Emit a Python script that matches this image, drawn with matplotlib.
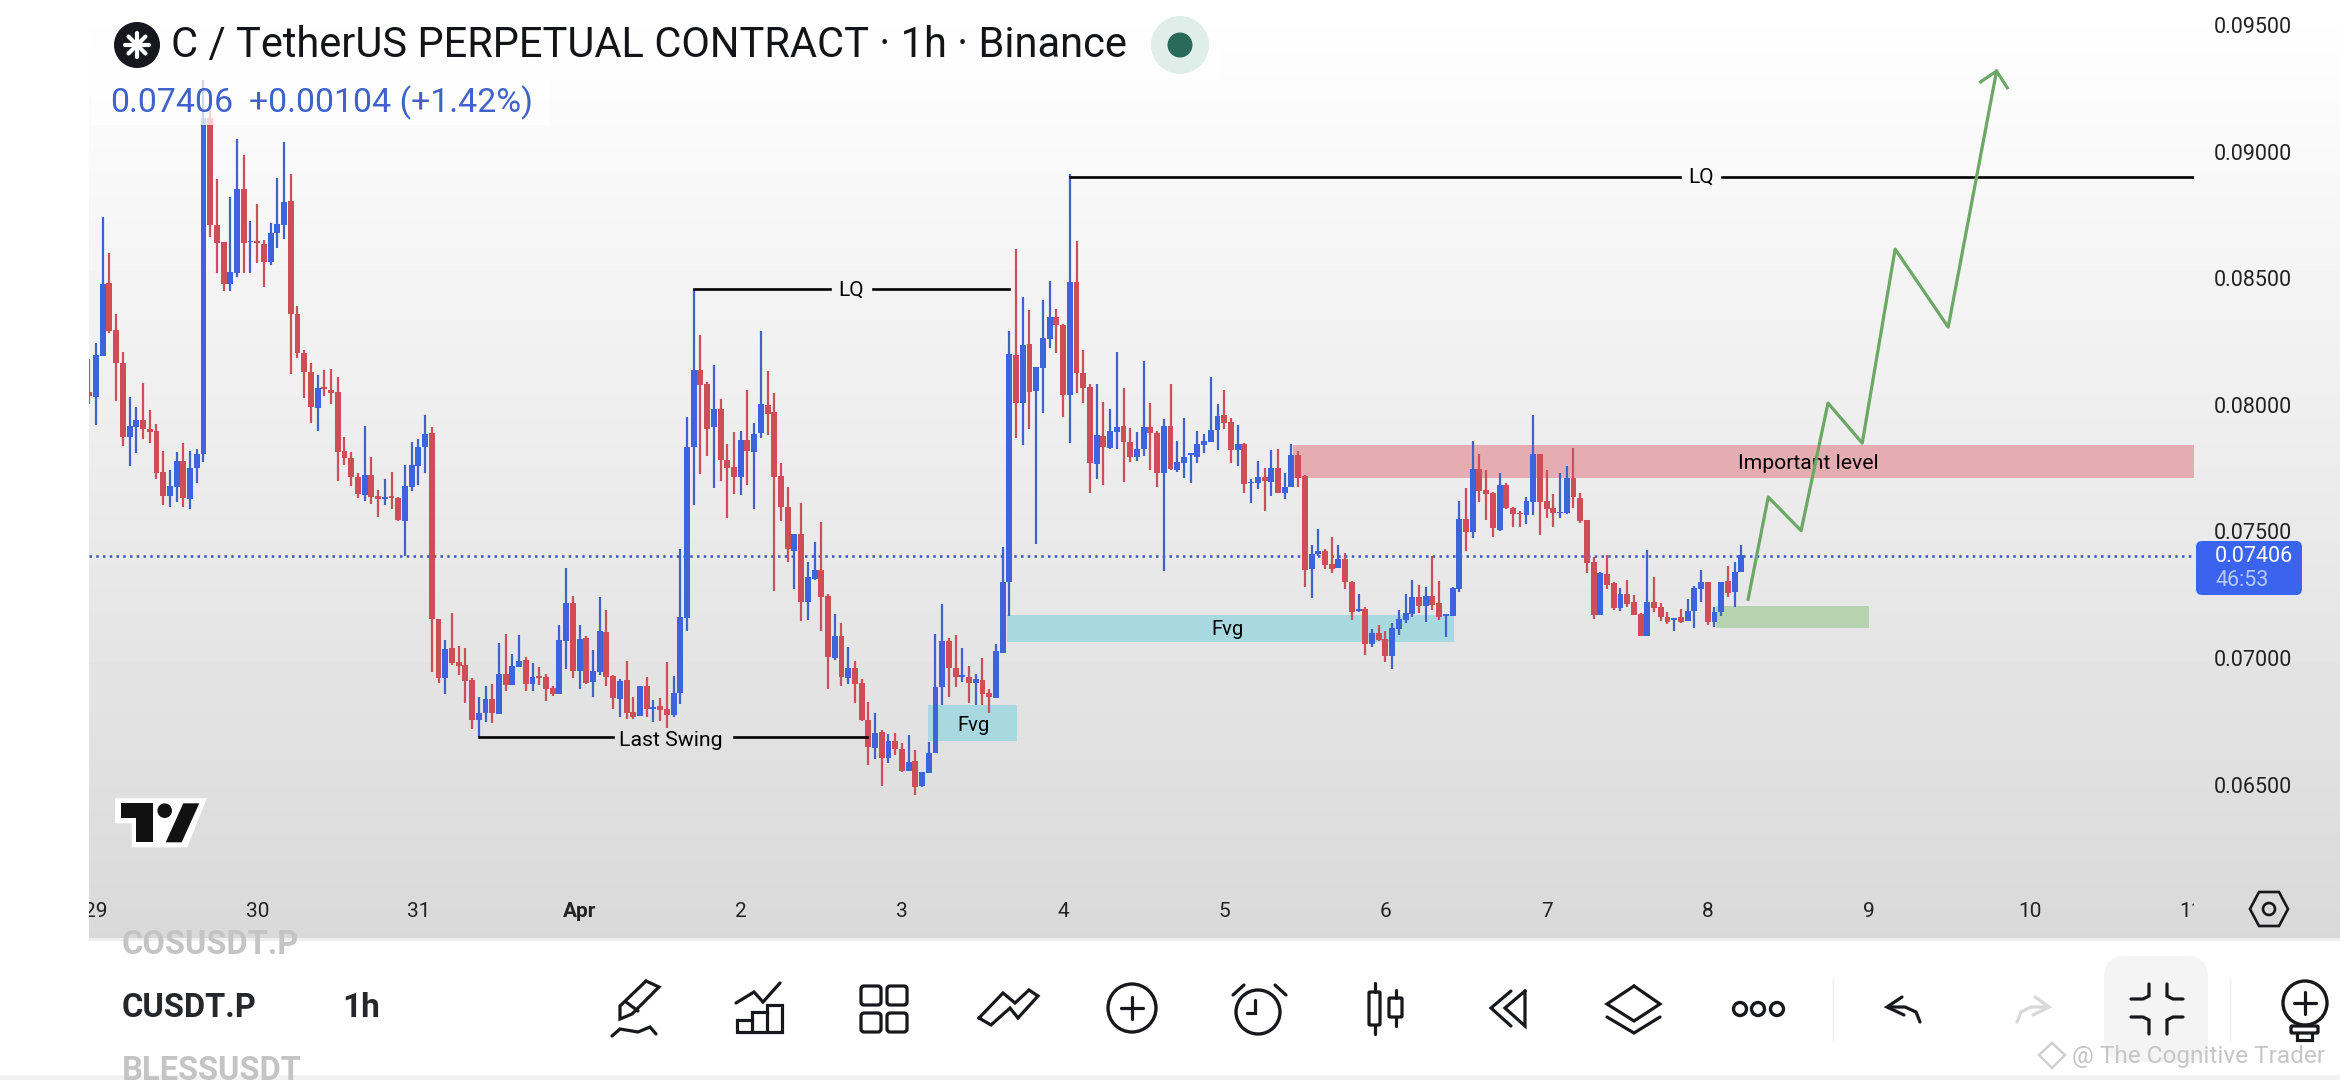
"""C / TetherUS 1h chart with the annotations, in the look of the phone app"""

import numpy as np
import matplotlib
matplotlib.use('Agg')
import matplotlib.pyplot as plt
from matplotlib.patches import Rectangle, Circle, Polygon, FancyBboxPatch

plt.rcParams['font.family'] = ['Roboto', 'DejaVu Sans']

# prices in 1/100000 of a dollar, one hourly candle each
opens = [8052,8032,8193,8480,8296,8164,7874,7914,7940,7903,
         7897,7734,7640,7677,7778,7628,7749,7805,9132,8710,
         8645,8476,8522,8853,8645,8646,8635,8566,8680,8710,
         8805,8358,8204,8128,7989,8072,8059,8049,7818,7789,
         7716,7644,7722,7640,7627,7640,7634,7542,7677,7760,
         7832,7890,7153,6922,7038,6983,6972,6913,6755,6784,
         6838,6779,6937,6893,6966,6992,6897,6929,6924,6882,
         6858,7069,7216,6950,7078,6907,6945,7103,6929,6839,
         6913,6786,6771,6890,6800,6811,6797,6776,6861,7158,
         7832,8137,8082,7911,7982,7782,7753,7716,7861,7815,
         7887,7999,7970,7719,7598,7424,7490,7223,7312,7348,
         7245,6999,7087,6922,6962,6900,6755,6643,6709,6606,
         6672,6639,6555,6593,6495,6547,6624,6887,7067,6959,
         6926,6926,6903,6913,6861,6843,7022,7299,8197,8009,
         8240,8056,8147,8261,8348,8315,8040,8484,8125,8072,
         7765,7877,7828,7894,7917,7855,7793,7824,7911,7888,
         7730,7917,7743,7772,7802,7795,7843,7855,7901,7959,
         7931,7822,7845,7690,7690,7716,7694,7749,7653,7677,
         7802,7719,7352,7411,7421,7370,7357,7391,7300,7187,
         7195,7055,7098,7074,7008,7115,7150,7174,7240,7205,
         7246,7216,7166,7166,7271,7548,7499,7747,7664,7650,
         7506,7683,7591,7574,7564,7618,7806,7619,7591,7574,
         7574,7711,7631,7545,7381,7170,7332,7298,7196,7254,
         7223,7174,7088,7220,7200,7163,7150,7161,7148,7187,
         7273,7300,7144,7183,7304,7262,7338]
closes = [8035,8197,8477,8293,8164,7874,7917,7940,7903,7894,
          7732,7641,7680,7778,7631,7749,7806,9132,8710,8641,
          8476,8523,8853,8641,8648,8638,8566,8677,8713,8802,
          8358,8204,8131,7993,8065,8064,8048,7815,7791,7716,
          7648,7723,7637,7627,7635,7634,7545,7679,7762,7835,
          7885,7153,6922,7034,6982,6970,6911,6755,6782,6838,
          6782,6937,6893,6968,6990,6897,6924,6922,6879,6858,
          7071,7216,6950,7074,6903,6949,7108,6926,6841,6909,
          6784,6766,6890,6800,6808,6795,6776,6861,7161,7832,
          8137,8078,7906,7982,7782,7750,7716,7861,7818,7885,
          8003,7964,7716,7595,7429,7490,7223,7319,7348,7242,
          7003,7087,6924,6959,6897,6755,6650,6705,6606,6672,
          6639,6554,6588,6492,6550,6624,6884,7067,6959,6926,
          6932,6903,6916,6858,6845,7028,7299,8201,8006,8236,
          8052,8148,8263,8348,8314,8040,8484,8125,8068,7769,
          7880,7832,7897,7911,7855,7793,7824,7911,7888,7730,
          7917,7747,7776,7793,7809,7845,7856,7901,7956,7930,
          7822,7845,7686,7695,7715,7698,7749,7653,7677,7802,
          7712,7348,7411,7421,7367,7350,7390,7299,7183,7192,
          7055,7098,7071,7008,7117,7154,7177,7240,7205,7246,
          7209,7161,7173,7277,7548,7499,7747,7661,7648,7512,
          7683,7591,7567,7567,7621,7806,7618,7589,7574,7578,
          7711,7635,7542,7377,7170,7337,7288,7196,7255,7213,
          7170,7088,7220,7199,7161,7144,7159,7144,7187,7277,
          7300,7144,7183,7300,7258,7338,7406]
highs = [8180,8243,8741,8598,8359,8207,8032,7990,8085,7980,
         7924,7818,7743,7814,7851,7818,7826,9283,9243,8891,
         8645,8820,9049,8987,8727,8793,8651,8717,8895,9037,
         8912,8390,8217,8164,8118,8138,8140,8109,7872,7813,
         7732,7917,7793,7664,7706,7734,7637,7762,7852,7864,
         7960,7914,7153,7071,7179,7047,7038,6920,6847,6890,
         6897,7061,7095,7016,7091,7003,6982,6966,6937,6890,
         7130,7354,7245,7130,7087,7032,7242,7190,6933,6916,
         6990,6847,6890,6926,6834,6841,6986,6929,7431,7951,
         8456,8276,8089,8157,8022,7845,7891,7895,8059,7927,
         8292,8134,8045,7772,7677,7490,7611,7378,7457,7537,
         7252,7174,7137,7042,6990,6916,6825,6782,6716,6699,
         6703,6663,6696,6637,6551,6667,7095,7213,7078,7091,
         7038,6968,6937,6999,6876,7055,7440,8292,8614,8425,
         8375,8151,8414,8489,8379,8318,8910,8647,8217,8081,
         8081,8011,7982,8209,8067,7907,7892,8173,8006,7897,
         7943,8082,7857,7949,7809,7897,7885,8110,8003,8059,
         7949,7920,7848,7706,7778,7749,7822,7824,7732,7845,
         7818,7723,7446,7508,7429,7477,7446,7413,7306,7255,
         7203,7115,7130,7108,7137,7190,7255,7308,7288,7279,
         7403,7304,7173,7279,7620,7670,7858,7806,7743,7657,
         7729,7693,7598,7582,7635,7960,7806,7743,7646,7732,
         7758,7828,7650,7545,7400,7338,7407,7302,7275,7308,
         7249,7177,7427,7319,7216,7183,7159,7194,7233,7284,
         7348,7300,7203,7300,7365,7378,7446]
lows = [8003,7920,8193,8283,8017,7838,7759,7811,7864,7851,
        7709,7605,7595,7618,7598,7590,7693,7776,8662,8522,
        8450,8451,8506,8519,8522,8559,8467,8554,8621,8654,
        8122,8184,8028,7930,7898,8035,8003,7701,7763,7680,
        7632,7622,7608,7558,7606,7590,7542,7403,7661,7683,
        7732,6946,6900,6858,6972,6933,6821,6720,6687,6749,
        6745,6779,6871,6893,6966,6871,6871,6893,6830,6850,
        6858,6955,6922,6879,6897,6847,6933,6890,6800,6768,
        6761,6759,6771,6768,6747,6751,6722,6766,6818,7108,
        7604,7727,7798,7670,7700,7552,7648,7644,7684,7587,
        7870,7881,7266,7542,7381,7273,7148,7150,7308,7108,
        6879,6992,6891,6896,6824,6751,6578,6600,6496,6584,
        6617,6551,6555,6459,6492,6547,6624,6814,6847,6887,
        6907,6824,6814,6814,6784,6843,7019,7167,7870,7840,
        7903,7450,7969,8223,8203,7951,7851,8048,8009,7653,
        7709,7685,7826,7827,7697,7773,7777,7799,7743,7677,
        7345,7743,7734,7712,7693,7769,7811,7855,7822,7906,
        7772,7760,7651,7611,7669,7580,7641,7651,7628,7677,
        7677,7282,7236,7404,7352,7334,7357,7273,7150,7180,
        7012,7045,7067,6983,6958,7091,7140,7163,7179,7144,
        7190,7150,7084,7166,7262,7423,7475,7618,7545,7479,
        7503,7589,7519,7519,7529,7565,7487,7554,7519,7552,
        7567,7594,7532,7337,7155,7170,7274,7190,7186,7203,
        7170,7088,7088,7180,7148,7134,7108,7137,7148,7120,
        7223,7130,7124,7167,7242,7203,7338]

day_candles = [2, 26, 50, 74, 98, 122, 146, 170, 194, 218, 242, 266, 290, 314]
day_labels = ['29', '30', '31', 'Apr', '2', '3', '4', '5', '6', '7', '8', '9', '10', '11']
price_ticks = [0.065, 0.07, 0.075, 0.08, 0.085, 0.09, 0.095]
last_price = 0.07406

# annotations: (first candle, last candle, low, high)
fvg_small = (125.9, 139.1, 0.06672, 0.06815)
fvg_big = (137.6, 204.2, 0.07065, 0.07170)
important_zone = (180.2, 314.4, 0.07712, 0.07842)
green_zone = (243.2, 266.0, 0.07120, 0.07206)
path_x = [248, 251, 255.9, 259.9, 265, 269.9, 277.8, 285]
path_y = [0.07232, 0.07636, 0.07503, 0.08007, 0.07849, 0.08615, 0.08307, 0.09318]
head_x = [282.6, 285, 286.6]
head_y = [0.09275, 0.09318, 0.09252]

W, H = 2340, 1080
BLUE = '#3d64dd'
RED = '#cf4d56'
INK = '#17181c'

fig = plt.figure(figsize=(W / 100, H / 100), dpi=100, facecolor='white')

# grey gradient behind chart and price scale
back = fig.add_axes([89 / W, 1 - 938 / H, (W - 89) / W, 938 / H], zorder=0)
back.imshow(np.linspace(255, 217, 256).reshape(-1, 1), cmap='gray', vmin=0, vmax=255,
            aspect='auto', interpolation='bilinear')
back.axis('off')

ax = fig.add_axes([89 / W, 1 - 938 / H, 2105 / W, 938 / H], zorder=1)
ax.patch.set_alpha(0)
ax.set_xlim(0.955, 314.4)
ax.set_ylim(0.058946, 0.095987)
for s in ax.spines.values():
    s.set_visible(False)

for zone, col in [(fvg_small, '#a8d9e0'), (fvg_big, '#a8d9e0'),
                  (important_zone, '#e5adb2'), (green_zone, '#b6d3b0')]:
    ax.add_patch(Rectangle((zone[0], zone[2]), zone[1] - zone[0], zone[3] - zone[2],
                           fc=col, ec='none', zorder=1))

ax.axhline(last_price - 0.00003, color='#3a55b8', lw=1.8, ls=(0, (1, 1.7)), zorder=2)

o = np.array(opens) / 1e5
c = np.array(closes) / 1e5
hi = np.array(highs) / 1e5
lo = np.array(lows) / 1e5
xs = np.arange(1, len(o) + 1)
up = c >= o
colors = np.where(up, BLUE, RED)
wick_colors = np.where(up, '#3f63c6', '#cb5059')
ax.vlines(xs, lo, hi, colors=wick_colors, lw=1.6, zorder=3)
ax.bar(xs, np.abs(c - o), bottom=np.minimum(o, c), width=0.88, color=colors, zorder=4)

# black levels
ax.plot([59, 79], [0.066895, 0.066895], color='k', lw=1.9, zorder=5)
ax.plot([97, 116.8], [0.066895, 0.066895], color='k', lw=1.9, zorder=5)
ax.plot([91, 111.3], [0.08456, 0.08456], color='k', lw=1.9, zorder=5)
ax.plot([117.7, 138], [0.08456, 0.08456], color='k', lw=1.9, zorder=5)
ax.plot([147, 237.9], [0.08901, 0.08901], color='k', lw=1.9, zorder=5)
ax.plot([244.1, 314.4], [0.08901, 0.08901], color='k', lw=1.9, zorder=5)

ax.text(87.6, 0.06675, 'Last Swing', ha='center', va='center', fontsize=15.3, zorder=6)
ax.text(114.5, 0.08452, 'LQ', ha='center', va='center', fontsize=15, zorder=6)
ax.text(241, 0.08897, 'LQ', ha='center', va='center', fontsize=15, zorder=6)
ax.text(132.6, 0.06733, 'Fvg', ha='center', va='center', fontsize=14.5, zorder=6)
ax.text(170.5, 0.07113, 'Fvg', ha='center', va='center', fontsize=14.5, zorder=6)
ax.text(256.9, 0.07770, 'Important level', ha='center', va='center', fontsize=15.2, zorder=6)

ax.plot(path_x, path_y, color='#6aa863', lw=2.3, zorder=7)
ax.plot(head_x, head_y, color='#6aa863', lw=2.3, zorder=7)

ax.set_xticks(day_candles)
ax.set_xticklabels(day_labels, fontsize=15, color='#222222')
ax.tick_params(axis='x', length=0, pad=-26)
for t in ax.get_xticklabels():
    t.set_clip_on(True)
    t.set_clip_box(ax.bbox)
    if t.get_text() == 'Apr':
        t.set_fontweight('bold')
ax.yaxis.tick_right()
ax.set_yticks(price_ticks)
ax.set_yticklabels(['%.5f' % p for p in price_ticks], fontsize=15.5, color='#222222',
                   va='center_baseline')
ax.tick_params(axis='y', length=0, pad=14)

# everything else of the app is placed in pixels of the picture
ui = fig.add_axes([0, 0, 1, 1], zorder=2)
ui.set_xlim(0, W)
ui.set_ylim(H, 0)
ui.axis('off')


def ln(pts, lw=2.3, col=INK):
    ui.plot([p[0] for p in pts], [p[1] for p in pts], color=col, lw=lw,
            solid_capstyle='round', solid_joinstyle='miter')


def box(x0, y0, x1, y1, r=3, col=INK, fc='none', lw=2.3):
    ui.add_patch(FancyBboxPatch((x0 + r, y0 + r), x1 - x0 - 2 * r, y1 - y0 - 2 * r,
                                boxstyle='round,pad=%d,rounding_size=%d' % (r, r),
                                fc=fc, ec=col, lw=lw))


# legend
ui.add_patch(Rectangle((91, 17), 1129, 63, fc='white', ec='none', alpha=0.75))
ui.add_patch(Rectangle((91, 80), 459, 45, fc='white', ec='none', alpha=0.75))
ui.add_patch(Circle((137, 45), 23, fc='#16181d', ec='none'))
for a in np.deg2rad([0, 45, 90, 135]):
    dx, dy = 12 * np.cos(a), 12 * np.sin(a)
    ln([(137 - dx, 45 - dy), (137 + dx, 45 + dy)], lw=3, col='white')
ui.text(171, 45.5, 'C / TetherUS PERPETUAL CONTRACT · 1h · Binance', fontsize=30,
        color='#131417', va='center', ha='left')
ui.add_patch(Circle((1180, 45), 29, fc='#dfeee9', ec='none'))
ui.add_patch(Circle((1180, 45), 12.5, fc='#2a6a5a', ec='none'))
ui.text(110, 103, '0.07406', fontsize=24.4, color='#3f63c8', va='center', ha='left')
ui.text(249, 103, '+0.00104 (+1.42%)', fontsize=24.4, color='#3f63c8', va='center', ha='left')

# last price badge
box(2196, 541, 2302, 595, r=6, col='#3a63ee', fc='#3a63ee', lw=0)
ui.text(2215, 557, '0.07406', fontsize=15.5, color='white', va='center', ha='left')
ui.text(2215, 581, '46:53', fontsize=15.5, color='#b5c8fb', va='center', ha='left')

# settings hexagon on the date scale
ui.add_patch(Polygon([(2250, 909), (2259, 892), (2279, 892), (2288, 909), (2279, 926), (2259, 926)],
                     fc='none', ec=INK, lw=1.9))
ui.add_patch(Circle((2269, 909), 6, fc='none', ec=INK, lw=1.9))

# TradingView mark
ui.add_patch(Polygon([(115, 798.3), (206.7, 798.3), (187.3, 847.3), (131.7, 847.3), (131.7, 823.3), (115, 823.3)],
                     fc='white', ec='none'))
ui.add_patch(Polygon([(120.7, 803.3), (152.7, 803.3), (152.7, 842.3), (136, 842.3), (136, 818.3), (120.7, 818.3)],
                     fc='#111111', ec='none'))
ui.add_patch(Circle((164.7, 810.7), 7.3, fc='#111111', ec='none'))
ui.add_patch(Polygon([(183.3, 803.3), (199.3, 803.3), (181.7, 842.3), (165.7, 842.3)], fc='#111111', ec='none'))

# bottom bar
ui.add_patch(Rectangle((89, 938), W - 89, 3, fc='#efefef', ec='none'))
ui.add_patch(Rectangle((0, 1075), W, 5, fc='#f2f2f2', ec='none'))
clip_names = Rectangle((0, 941), 298, 134, transform=ui.transData)
t = ui.text(122, 945, 'COSUSDT.P', fontsize=23.5, color='#c4c4c4', fontweight='bold', va='center', ha='left')
t.set_clip_path(clip_names)
t = ui.text(122, 1071, 'BLESSUSDT', fontsize=23.5, color='#c4c4c4', fontweight='bold', va='center', ha='left')
t.set_clip_path(clip_names)
ui.text(122, 1008, 'CUSDT.P', fontsize=23.5, color='#26272b', fontweight='bold', va='center', ha='left')
ui.text(342, 1008, '1h', fontsize=24, color='#26272b', fontweight='bold', va='center', ha='left')

# pencil
ln([(646, 981), (659, 987), (632, 1014), (620, 1019), (620, 1006), (646, 981)])
ln([(626, 1002), (638, 1011)])
ln([(612, 1036), (620, 1029), (638, 1032), (650, 1027), (656, 1034)])
# bars with line
ln([(736, 1003), (754, 992), (763, 1002), (780, 983)])
ln([(737, 1032), (737, 1020), (752, 1020), (752, 1012), (767, 1012), (767, 1005), (782, 1005), (782, 1032), (737, 1032)])
ln([(752, 1020), (752, 1032)])
ln([(767, 1012), (767, 1032)])
# grid
for gx in (861, 887):
    for gy in (986, 1013):
        box(gx, gy, gx + 20, gy + 19)
# two chevrons
ln([(979, 1018), (991, 1025), (1010, 1008), (1018, 1018), (1038, 996), (1029, 990), (1015, 1003), (1003, 993), (979, 1018)])
# plus in circle
ui.add_patch(Circle((1132, 1008), 24, fc='none', ec=INK, lw=2.4))
ln([(1121, 1008), (1143, 1008)])
ln([(1132, 997), (1132, 1019)])
# alarm
ui.add_patch(Circle((1258, 1012), 22, fc='none', ec=INK, lw=2.4))
ln([(1255, 1000), (1255, 1013), (1247, 1013)])
ln([(1233, 995), (1244, 985)])
ln([(1286, 995), (1275, 985)])
# candles
box(1369, 992, 1380, 1025, r=1)
ln([(1374.5, 983), (1374.5, 992)])
ln([(1374.5, 1025), (1374.5, 1034)])
box(1389, 998, 1402, 1017, r=1)
ln([(1395.5, 990), (1395.5, 998)])
ln([(1395.5, 1017), (1395.5, 1026)])
# rewind
ln([(1525, 991), (1505, 1008), (1525, 1026), (1525, 991)])
ln([(1511, 991), (1491, 1008), (1511, 1026)])
# layers
ln([(1634, 986), (1660, 1004), (1634, 1021), (1607, 1004), (1634, 986)])
ln([(1607, 1017), (1634, 1033), (1660, 1017)])
# dots
for dx in (1740, 1758, 1777):
    ui.add_patch(Circle((dx, 1009), 6.5, fc='none', ec=INK, lw=2.4))
# separators, undo, redo
ln([(1832.5, 977), (1832.5, 1040)], lw=1, col='#eeeeee')
ln([(2230, 977), (2230, 1040)], lw=1, col='#eeeeee')
ln([(1902, 997), (1887, 1007), (1904, 1015)])
ln([(1888, 1007), (1905, 1007), (1916, 1012), (1920, 1022)])
ln([(2035, 997), (2049, 1007), (2033, 1015)], col='#d8d8d8')
ln([(2048, 1007), (2031, 1007), (2021, 1012), (2017, 1022)], col='#d8d8d8')
# collapse button
box(2104, 956, 2208, 1062, r=22, col='none', fc='#f4f4f4', lw=0)
ln([(2149, 984), (2149, 996), (2143, 999), (2131, 999)])
ln([(2167, 984), (2167, 996), (2173, 999), (2183, 999)])
ln([(2131, 1017), (2143, 1017), (2149, 1020), (2149, 1034)])
ln([(2183, 1017), (2173, 1017), (2167, 1020), (2167, 1034)])
# bulb
ui.add_patch(Circle((2305, 1003), 22, fc='none', ec=INK, lw=2.4))
ln([(2294, 1003), (2316, 1003)])
ln([(2305, 992), (2305, 1014)])
box(2291, 1026, 2318, 1033, r=1)
ln([(2297, 1033), (2297, 1040), (2312, 1040), (2312, 1033)])

# watermark
ui.add_patch(Polygon([(2052, 1043), (2065, 1055), (2052, 1068), (2039, 1055)], fc='none', ec='#cfcfcf', lw=1.8))
ui.text(2072, 1056, '@ The Cognitive Trader', fontsize=17.6, color='#c6c6c6', va='center', ha='left')

fig.savefig('out.png', dpi=100, facecolor='white')
